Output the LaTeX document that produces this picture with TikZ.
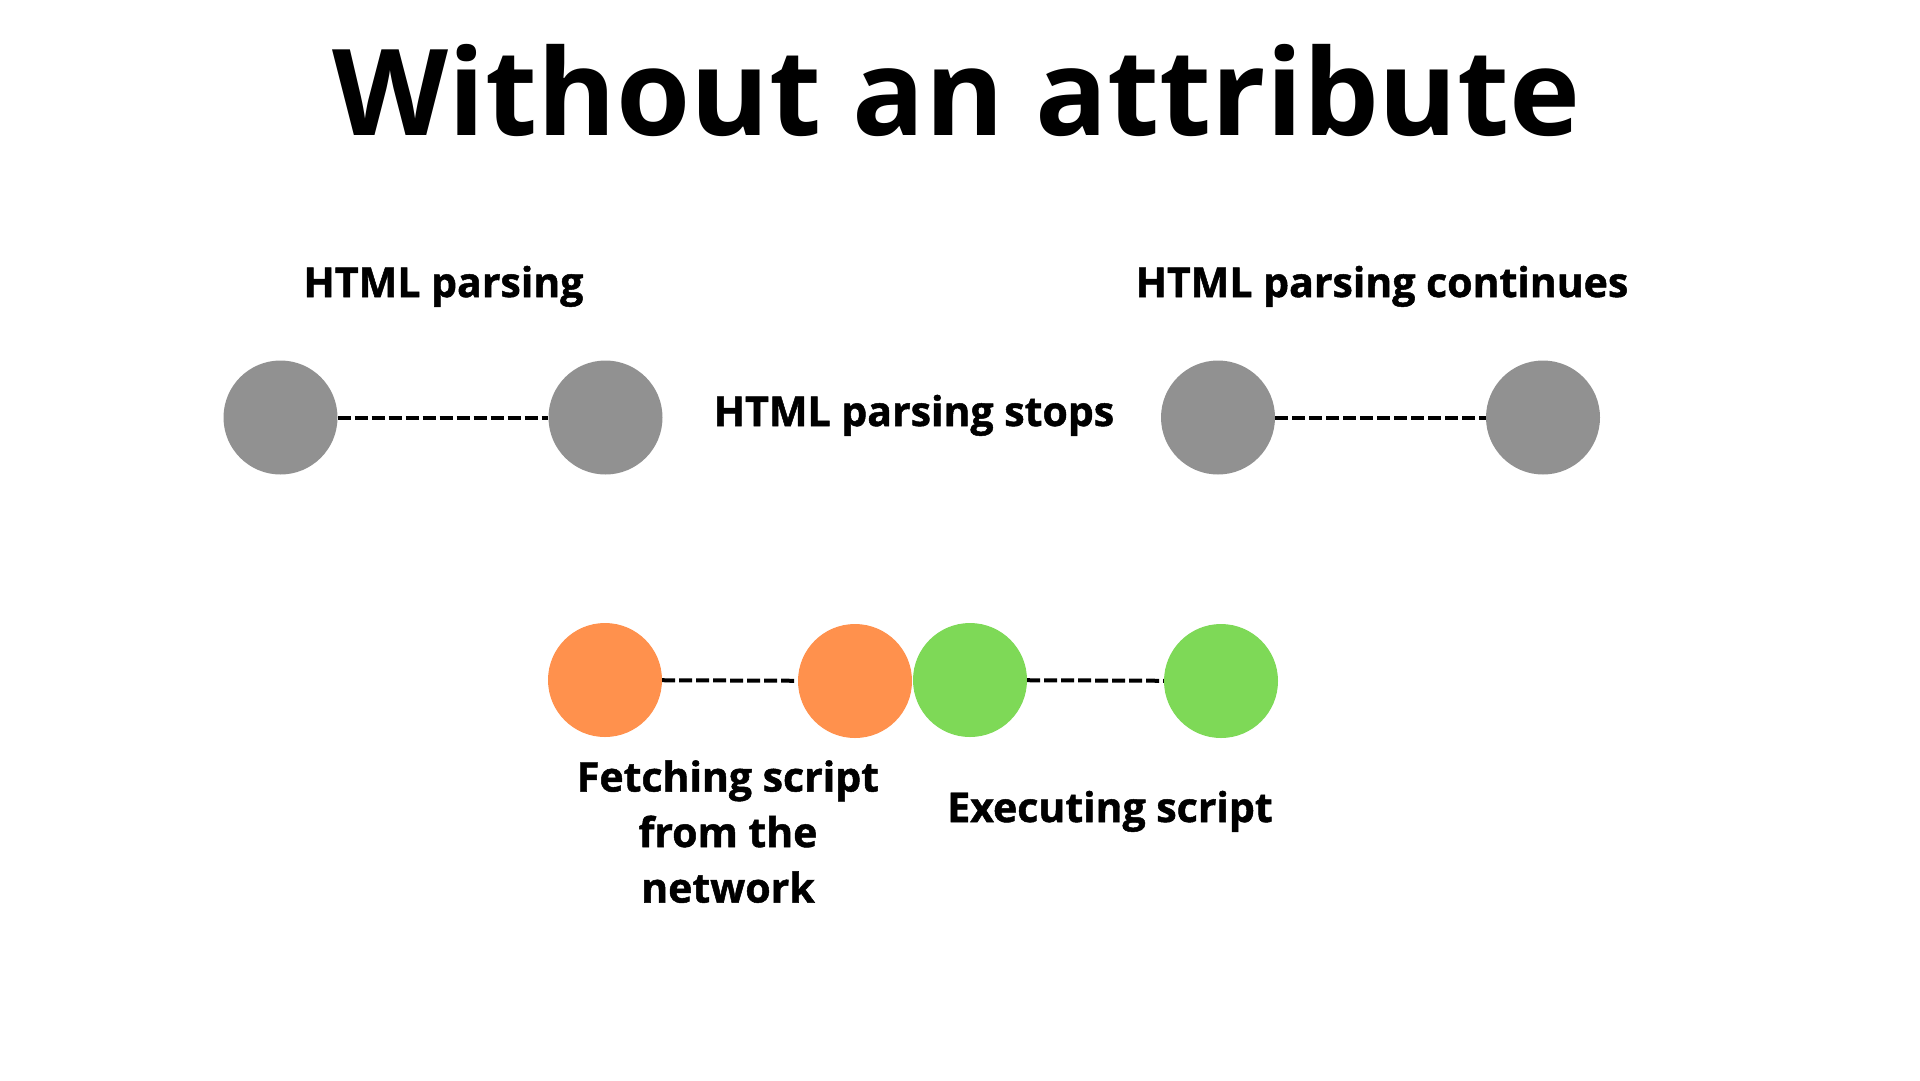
\documentclass[tikz,border=0pt]{standalone}
\usepackage{fontspec}
\setmainfont{Open Sans}
\newfontfamily\heavyfont{Open Sans}[BoldFeatures={FakeBold=1.2}]
\definecolor{parsegray}{HTML}{919191}
\definecolor{fetchorange}{HTML}{FF914D}
\definecolor{execgreen}{HTML}{7ED957}
\begin{document}
\begin{tikzpicture}[x=1pt, y=-1pt, every node/.style={font=\heavyfont\bfseries\fontsize{41}{55.5}\selectfont},
	dot/.style={circle, minimum size=114pt, inner sep=0pt},
	link/.style={line width=4pt, dash pattern=on 13pt off 4pt},
	label/.style={anchor=base, align=center}]
				\useasboundingbox (0,0) rectangle (1920,1080);
				
				% 标题
				\node[anchor=base, font=\bfseries] (title) at (957,135) {\fontsize{120}{140}\selectfont Without an attribute};
				
				% HTML 解析
				\node[dot, fill=parsegray] (p1) at (280.5,417.5) {};
				\node[dot, fill=parsegray] (p2) at (605.5,417.5) {};
				\node[dot, fill=parsegray] (p3) at (1218,417.5) {};
				\node[dot, fill=parsegray] (p4) at (1543,417.5) {};
				\draw[link] (p1) -- (p2);
				\draw[link] (p3) -- (p4);
				
				\node[label] (parse) at (443.5,297) {HTML parsing};
				\node[label] (stops) at (914,426) {HTML parsing stops};
				\node[label] (cont) at (1382,297) {HTML parsing continues};
				
				% 获取与执行脚本
				\node[dot, fill=fetchorange] (f1) at (605,680) {};
				\node[dot, fill=fetchorange] (f2) at (855,681) {};
				\node[dot, fill=execgreen] (e1) at (970,680) {};
				\node[dot, fill=execgreen] (e2) at (1221,681) {};
				\draw[link] (f1) -- (f2);
				\draw[link] (e1) -- (e2);
				
				\node[label] (fetch) at (728,902.5) {Fetching script\\from the\\network};
				\node[label] (exec) at (1110,822) {Executing script};
			\end{tikzpicture}
\end{document}
